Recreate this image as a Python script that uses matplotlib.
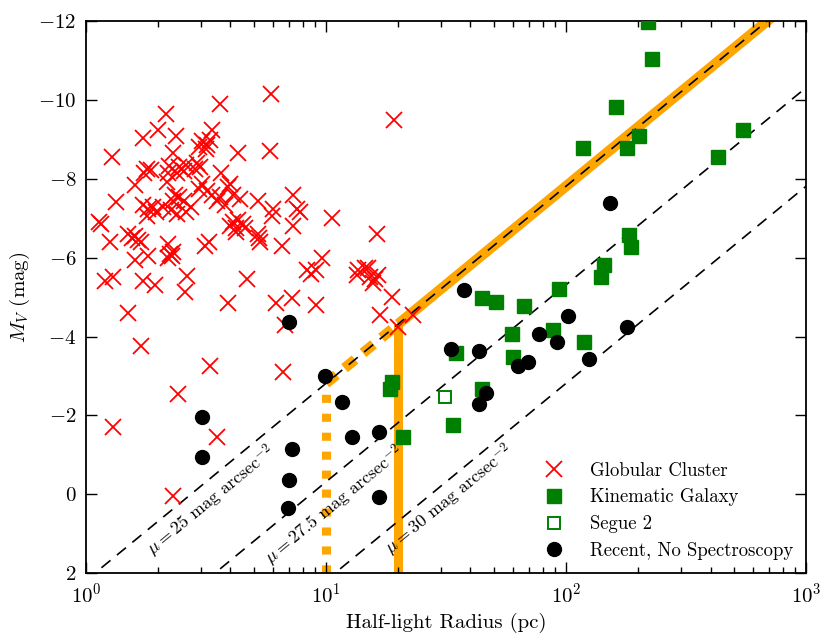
import numpy as np
import matplotlib
matplotlib.use("Agg")
import matplotlib.pyplot as plt

plt.rcParams.update({
    "font.family": "serif",
    "font.serif": ["cmr10"],
    "mathtext.fontset": "cm",
    "axes.formatter.use_mathtext": True,
    "axes.unicode_minus": True,
})

# globular clusters: half-light radius (pc), M_V
gc_r = [5.9, 3.6, 2.15, 2.0, 1.73, 2.38, 3.35, 19.2,
        3.05, 3.2, 2.95, 3.3, 3.15, 4.3, 5.85, 1.28, 2.3,
        1.8, 1.87, 1.75, 2.22, 2.45, 2.55, 2.4, 2.6, 2.9, 2.98, 2.85,
        3.64, 2.2, 2.18, 3.05, 2.95, 3.2, 4.0, 3.9, 4.1, 4.4,
        2.35, 2.45, 2.3, 2.55, 1.6, 1.34,
        1.73, 1.82, 1.9, 1.95, 1.8, 2.1, 2.25, 2.4, 2.6, 2.75,
        3.5, 3.8, 3.35, 3.6, 5.2, 7.3, 6.0, 5.95, 7.55, 7.8,
        10.6, 7.3, 4.1, 4.3, 4.5, 4.6, 4.2, 3.98, 5.2, 5.25, 5.3,
        6.55, 16.3, 9.6, 14.9, 13.6, 8.3, 9.1,
        1.13, 1.15, 1.26, 1.5, 1.55, 1.65, 1.6, 1.7, 1.82, 1.6,
        2.2, 2.24, 2.28, 2.3, 2.2, 3.13, 3.25, 4.2,
        1.2, 1.3, 1.73, 1.94, 2.63, 2.58, 1.5, 3.9, 4.7,
        6.2, 7.2, 9.1, 8.65, 6.75,
        13.4, 14.5, 15.3, 16.0, 16.5, 15.7, 18.8, 16.8, 20.0, 23.0,
        1.3, 1.7, 3.28, 2.42, 3.5, 2.3, 6.6]
gc_mv = [-10.15, -9.9, -9.65, -9.25, -9.05, -9.1, -9.25, -9.5,
         -8.95, -8.85, -8.8, -9.0, -8.75, -8.65, -8.7, -8.55, -8.65,
         -8.25, -8.22, -8.15, -8.33, -8.3, -8.2, -8.15, -8.35, -8.4, -8.3, -8.25,
         -8.14, -8.14, -7.92, -7.88, -7.75, -7.7, -7.88, -7.8, -7.6, -7.5,
         -7.6, -7.55, -7.45, -7.45, -7.85, -7.42,
         -7.35, -7.25, -7.3, -7.15, -7.05, -7.3, -7.2, -7.1, -7.15, -7.3,
         -7.45, -7.35, -7.6, -7.55, -7.45, -7.6, -7.25, -7.05, -7.25, -7.15,
         -7.0, -6.8, -6.9, -6.95, -6.85, -6.75, -6.75, -6.8, -6.6, -6.5, -6.4,
         -6.3, -6.6, -6.0, -5.75, -5.7, -5.7, -5.7,
         -6.9, -6.85, -6.4, -6.6, -6.5, -6.45, -6.55, -6.4, -6.05, -5.95,
         -6.35, -6.1, -6.05, -6.15, -6.0, -6.3, -6.4, -6.65,
         -5.4, -5.5, -5.4, -5.3, -5.55, -5.13, -4.6, -4.85, -5.45,
         -4.85, -4.97, -4.8, -5.6, -4.3,
         -5.56, -5.73, -5.52, -5.47, -5.56, -5.35, -5.0, -4.55, -4.25, -4.55,
         -1.7, -3.75, -3.25, -2.55, -1.45, 0.05, -3.1]

# galaxies with kinematics
kin_r = [219, 229, 161.6, 118, 201, 180, 548, 431, 183, 187, 144.5, 140,
         93.8, 44.5, 51, 67, 59.4, 88.5, 119, 34.8, 60.3, 44.8, 33.7, 21.0,
         18.8, 18.5]
kin_mv = [-11.98, -11.05, -9.83, -8.79, -9.09, -8.79, -9.25, -8.56, -6.59, -6.28,
          -5.81, -5.52, -5.22, -4.97, -4.88, -4.78, -4.06, -4.16, -3.87, -3.59,
          -3.49, -2.68, -1.75, -1.46, -2.85, -2.66]

segue2_r = [31.4]
segue2_mv = [-2.46]

# recent discoveries, no spectroscopy
new_r = [152.5, 37.7, 101.6, 179, 77.2, 91.4, 33.2, 43.5, 69.2, 62.9, 124.7,
         46.4, 43.5, 7.0, 9.9, 11.7, 3.03, 3.03, 7.24, 12.8, 16.6, 7.0, 6.92, 16.6]
new_mv = [-7.38, -5.18, -4.52, -4.25, -4.06, -3.87, -3.68, -3.64, -3.36, -3.26, -3.42,
          -2.56, -2.30, -4.37, -3.0, -2.35, -1.95, -0.95, -1.16, -1.46, -1.58, -0.36,
          0.34, 0.06]

mu_levels = [25.0, 27.5, 30.0]
r_lo, r_hi = 10.0, 20.0


def mv_limit(mu, r):
    r = np.asarray(r, dtype=float)
    return mu - 21.572 - 2.5 * np.log10(np.pi * r**2)


fig = plt.figure(figsize=(8.3, 6.44), dpi=100)
ax = fig.add_axes([0.1036, 0.110, 0.8675, 0.857])
ax.set_xscale("log")
ax.set_xlim(1, 1000)
ax.set_ylim(2, -12)

orange = "#ffa500"
r_top = np.array([r_hi, 1000.0])
ax.plot(r_top, mv_limit(mu_levels[0], r_top), color=orange, lw=7.5,
        solid_capstyle="butt", zorder=1)
ax.plot([r_hi, r_hi], [2, mv_limit(mu_levels[0], r_hi)], color=orange, lw=6.5,
        solid_capstyle="butt", zorder=1)
r_mid = np.array([r_lo, r_hi])
ax.plot(r_mid, mv_limit(mu_levels[0], r_mid), color=orange, lw=7.5,
        dashes=(1.3, 1.0), dash_capstyle="butt", zorder=1)
ax.plot([r_lo, r_lo], [2, mv_limit(mu_levels[0], r_lo)], color=orange, lw=6.5,
        dashes=(0.9, 1.2), dash_capstyle="butt", zorder=1)

r_grid = np.logspace(0, 3, 50)
for mu in mu_levels:
    ax.plot(r_grid, mv_limit(mu, r_grid), color="k", lw=1.2, dashes=(7, 5), zorder=2)

ax.plot(gc_r, gc_mv, "x", color="r", ms=11, mew=1.3, ls="none", zorder=3,
        label="Globular Cluster")
ax.plot(kin_r, kin_mv, "s", color="g", mec="g", ms=9.5, ls="none", zorder=3,
        label="Kinematic Galaxy")
ax.plot(segue2_r, segue2_mv, "s", mfc="none", mec="g", mew=1.4, ms=9, ls="none",
        zorder=3, label="Segue 2")
ax.plot(new_r, new_mv, "o", color="k", ms=10, ls="none", zorder=4,
        label="Recent, No Spectroscopy")

# surface brightness labels along the dashed lines
p1 = ax.transData.transform((1, mv_limit(25, 1)))
p2 = ax.transData.transform((100, mv_limit(25, 100)))
ang = np.degrees(np.arctan2(p2[1] - p1[1], p2[0] - p1[0]))
label_pos = [(3.31, 0.17), (10.8, 0.27), (32.6, 0.15)]
for mu, (xr, ym) in zip(mu_levels, label_pos):
    txt = "%g" % mu
    ax.text(xr, ym, r"$\mu = %s$ mag arcsec$^{-2}$" % txt, rotation=ang,
            rotation_mode="anchor", ha="center", va="center", fontsize=13)

ax.set_yticks(range(-12, 3, 2))
ax.tick_params(which="both", direction="in", top=True, right=True, labelsize=15)
ax.tick_params(which="major", length=8, width=1, pad=7)
ax.tick_params(which="minor", length=4, width=1)
for s in ax.spines.values():
    s.set_linewidth(1.3)

ax.set_xlabel("Half-light Radius (pc)", fontsize=15)
ax.set_ylabel("$M_V$ (mag)", fontsize=15)

ax.legend(loc="lower right", frameon=False, numpoints=1, fontsize=13.5,
          handletextpad=0.9, labelspacing=0.47, borderaxespad=0.3)

fig.savefig("out.png", dpi=100)
